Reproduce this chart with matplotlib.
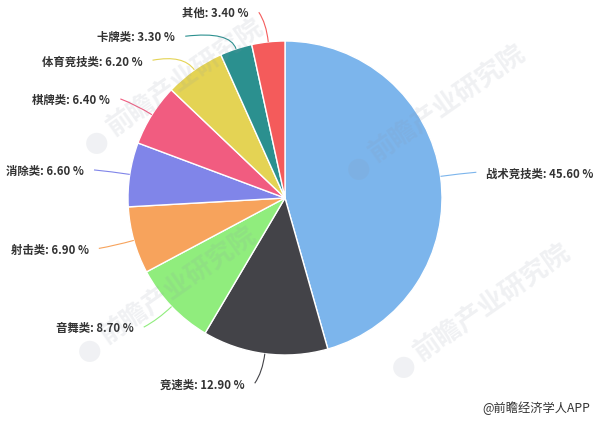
import numpy as np
import matplotlib
matplotlib.use('Agg')
import matplotlib.pyplot as plt
from matplotlib.path import Path
from matplotlib.patches import PathPatch

plt.rcParams['font.family'] = ['Noto Sans CJK SC', 'DejaVu Sans']

categories = ['战术竞技类', '竞速类', '音舞类', '射击类', '消除类',
              '棋牌类', '体育竞技类', '卡牌类', '其他']
shares = [45.60, 12.90, 8.70, 6.90, 6.60, 6.40, 6.20, 3.30, 3.40]
colors = ['#7cb5ec', '#434348', '#90ed7d', '#f7a35c', '#8085e9',
          '#f15c80', '#e4d354', '#2b908f', '#f45b5b']
source = '@前瞻经济学人APP'

W, H = 597, 421
R_PX = 157.0
cx, cy = 285, 198

fig = plt.figure(figsize=(W / 100, H / 100), dpi=100)
ax = fig.add_axes([0, 0, 1, 1])

wedges, _ = ax.pie(shares, colors=colors, startangle=90, counterclock=False,
                   radius=1.0, center=(0, 0), frame=True,
                   wedgeprops=dict(edgecolor='white', linewidth=1.0))
ax.set_xlim(-cx / R_PX, (W - cx) / R_PX)
ax.set_ylim(-(H - cy) / R_PX, cy / R_PX)
ax.set_aspect('equal')
ax.set_axis_off()

# label layout (highcharts-like: spread labels, x on a circle)
rl = 1.19
gap = 24 / R_PX
mids = [np.deg2rad((w.theta1 + w.theta2) / 2) for w in wedges]
natural_y = [rl * np.sin(a) for a in mids]
left = [np.cos(a) < 0 for a in mids]
final_y = list(natural_y)
for side in (True, False):
    idx = [i for i in range(len(mids)) if left[i] == side]
    idx.sort(key=lambda i: -natural_y[i])
    prev = None
    for i in idx:
        if prev is not None and final_y[i] > prev - gap:
            final_y[i] = prev - gap
        prev = final_y[i]

for i, (name, val) in enumerate(zip(categories, shares)):
    a = mids[i]
    y = final_y[i]
    sgn = -1 if left[i] else 1
    x = sgn * (np.sqrt(max(rl ** 2 - y ** 2, 0)) + 0.04)
    p0 = (np.cos(a), np.sin(a))
    c = (1.12 * np.cos(a), 1.12 * np.sin(a))
    path = Path([p0, c, (x, y)], [Path.MOVETO, Path.CURVE3, Path.CURVE3])
    ax.add_patch(PathPatch(path, facecolor='none', edgecolor=colors[i],
                           linewidth=0.8, zorder=3))
    ax.text(x + sgn * 0.064, y - 0.01, f'{name}: {val:.2f} %',
            ha='left' if sgn > 0 else 'right', va='center',
            fontsize=8.2, fontweight='bold', color='#333333', zorder=4)

# watermarks
for (wx, wy) in [(185, 77), (447, 103), (178, 285), (492, 302)]:
    fig.text(wx / W, 1 - wy / H, '前瞻产业研究院', fontsize=19, fontweight='bold',
             color='#8a94a6', alpha=0.13, rotation=35, ha='center', va='center',
             zorder=5)
    lx, ly = wx - 88, wy + 68
    fig.text(lx / W, 1 - ly / H, '●', fontsize=17, color='#8a94a6', alpha=0.12,
             ha='center', va='center', zorder=5)

fig.text(590 / W, 1 - 408 / H, source, fontsize=8.8, color='#333333',
         ha='right', va='center')

fig.savefig('out.png', dpi=100)
